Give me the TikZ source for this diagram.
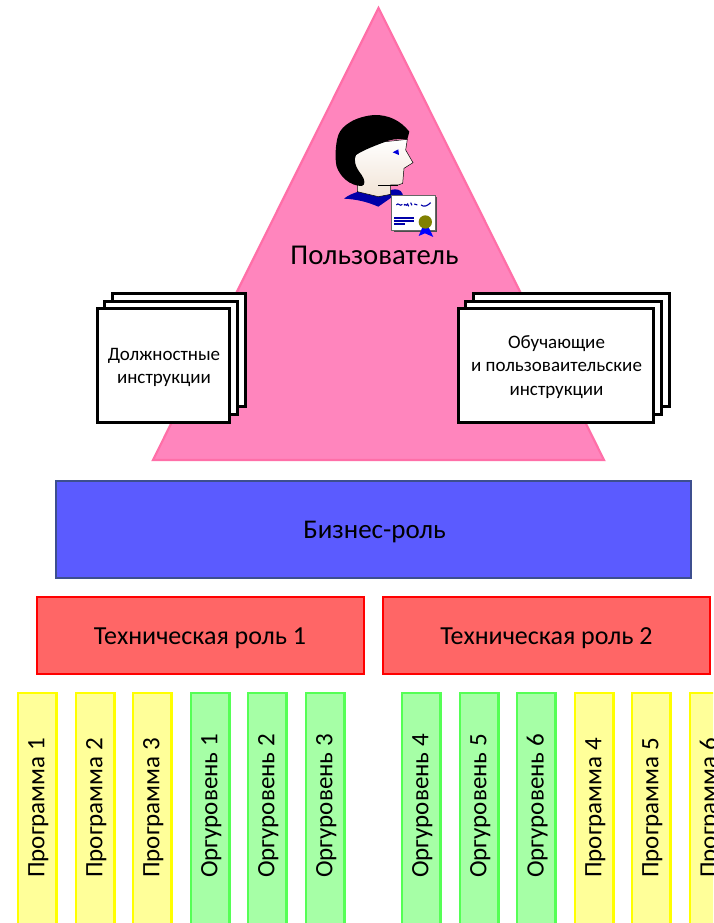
\documentclass[tikz,border=0pt]{standalone}
\usepackage{fontspec}
\setmainfont{Carlito}
\definecolor{trifill}{HTML}{FF85BD}
\definecolor{triline}{HTML}{FF6FA8}
\definecolor{bizfill}{HTML}{5B5BFF}
\definecolor{bizline}{HTML}{3D4F8F}
\definecolor{techfill}{HTML}{FF6666}
\definecolor{techline}{HTML}{FF0000}
\definecolor{progfill}{HTML}{FFFF99}
\definecolor{progline}{HTML}{FFFF00}
\definecolor{orgfill}{HTML}{A6FFA6}
\definecolor{orgline}{HTML}{55FF55}
\definecolor{certblue}{HTML}{0000A8}
\definecolor{seal}{HTML}{808000}
\tikzset{
  doc/.style={draw=black,fill=white,line width=3pt,line join=miter,inner sep=0pt,anchor=north west},
  doctext/.style={font=\fontsize{19}{23.5}\selectfont,align=center,text=black,inner sep=0pt},
  barbox/.style={anchor=north west,minimum width=38.2pt,minimum height=240pt,inner sep=0pt,line width=2.4pt},
  progbox/.style={barbox,draw=progline,fill=progfill},
  orgbox/.style={barbox,draw=orgline,fill=orgfill},
  techbox/.style={draw=techline,fill=techfill,line width=2.2pt,anchor=north west,minimum width=327pt,minimum height=77pt,inner sep=0pt},
  techtext/.style={font=\fontsize{26}{30}\selectfont,inner sep=0pt},
  bartext/.style={rotate=90,anchor=west,font=\fontsize{25}{30}\selectfont,inner sep=0pt},
}
\begin{document}
\begin{tikzpicture}[x=1pt,y=-1pt]
\useasboundingbox (0,0) rectangle (713,923);
\clip (0,0) rectangle (713,923);
\fill[white] (0,0) rectangle (713,923);
% triangle
\coordinate (ta) at (378.5,8);
\coordinate (tb) at (604,460);
\coordinate (tc) at (153,460);
\draw[fill=trifill,draw=triline,line width=2.2pt,line join=miter] (ta) -- (tb) -- (tc) -- cycle;
% person
\begin{scope}[shift={(320,100)},x=0.3333pt,y=-0.3333pt]
  \fill[certblue] (72,296) .. controls (85,285) and (100,280) .. (115,275) -- (175,290) .. controls (190,280) and (205,268) .. (225,268) .. controls (240,268) and (248,275) .. (250,292) -- (215,292) -- (175,320) .. controls (140,305) and (110,298) .. (72,296) -- cycle;
  \shade[top color=white,bottom color=white!78!brown,draw=black,line width=0.5pt] (262,118) -- (257,150) -- (279,188) -- (252,205) -- (248,250) -- (235,255) -- (212,255) -- (212,283) -- (175,290) -- (112,275) -- (112,250) -- (100,170) -- (150,130) -- cycle;
  \fill[black] (268,95) .. controls (240,60) and (205,45) .. (165,45) .. controls (110,48) and (65,75) .. (55,105) .. controls (45,135) and (45,180) .. (50,200) .. controls (60,230) and (90,258) .. (125,258) .. controls (137,255) and (135,240) .. (125,225) .. controls (105,200) and (100,180) .. (108,165) .. controls (130,150) and (170,135) .. (205,122) .. controls (225,115) and (250,118) .. (262,118) -- cycle;
  \draw[black,line width=0.9pt] (175,255) -- (235,255);
  \fill[blue!85!black] (218,157) -- (235,148) -- (237,165) -- cycle;
  % certificate
  \fill[black!70] (221,291) rectangle (351,395);
  \draw[fill=white,draw=black!60,line width=0.5pt] (215,285) rectangle (347,390);
  \draw[certblue,line width=1.1pt] (229,315) .. controls (235,305) and (240,322) .. (247,313) (252,316) .. controls (255,308) and (258,322) .. (263,312) -- (266,319) (272,308) -- (276,316) (283,312) -- (292,315) (303,315) .. controls (312,322) and (322,318) .. (332,308);
  \fill[certblue] (223,352) rectangle (283,358);
  \fill[certblue] (223,361) rectangle (283,366);
  \fill[certblue] (223,369) rectangle (256,375);
  \fill[blue] (308,380) -- (296,408) -- (315,400) -- (340,411) -- (325,380) -- cycle;
  \fill[seal] (316,366) circle (20);
\end{scope}
\node[anchor=center,font=\fontsize{28.7}{32}\selectfont,inner sep=0pt] (user) at (374.5,255) {Пользователь};
% left docs
\node[doc,minimum width=133pt,minimum height=113pt] (l3) at (111,292) {};
\node[doc,minimum width=133pt,minimum height=113pt] (l2) at (103,300) {};
\node[doc,minimum width=132pt,minimum height=114pt] (l1) at (96,307) {};
\node[doctext] (l1t) at (164,367.5) {Должностные\\инструкции};
% right docs
\node[doc,minimum width=196pt,minimum height=113pt] (r3) at (472,292) {};
\node[doc,minimum width=196pt,minimum height=113pt] (r2) at (464,300) {};
\node[doc,minimum width=195pt,minimum height=114pt] (r1) at (457,307) {};
\node[doctext] (r1t) at (556.5,367) {Обучающие\\и пользоваительские\\инструкции};
% business role
\node[draw=bizline,fill=bizfill,line width=2.2pt,anchor=north west,minimum width=634.5pt,minimum height=97pt,inner sep=0pt] (biz) at (55,480) {};
\node[font=\fontsize{27}{30}\selectfont,inner sep=0pt] (bizlabel) at (374.5,532) {Бизнес-роль};
% technical roles
\node[techbox] (t1) at (36,596) {};
\node[techbox] (t2) at (382,596) {};
\node[techtext] (t1t) at (200,638) {Техническая роль 1};
\node[techtext] (t2t) at (546.5,638) {Техническая роль 2};
% bars
\foreach \nm/\st/\px/\lab in {
  p1/progbox/17/Программа 1, p2/progbox/75/Программа 2, p3/progbox/132/Программа 3,
  o1/orgbox/190/Оргуровень 1, o2/orgbox/247/Оргуровень 2, o3/orgbox/305/Оргуровень 3,
  o4/orgbox/401/Оргуровень 4, o5/orgbox/459/Оргуровень 5, o6/orgbox/516/Оргуровень 6,
  p4/progbox/574/Программа 4, p5/progbox/631/Программа 5, p6/progbox/689/Программа 6}{
  \node[\st] (\nm) at (\px,691.5) {};
  \node[xshift=1pt,bartext] (\nm t) at (\nm.north |- 0,878) {\lab};
}
\end{tikzpicture}
\end{document}
